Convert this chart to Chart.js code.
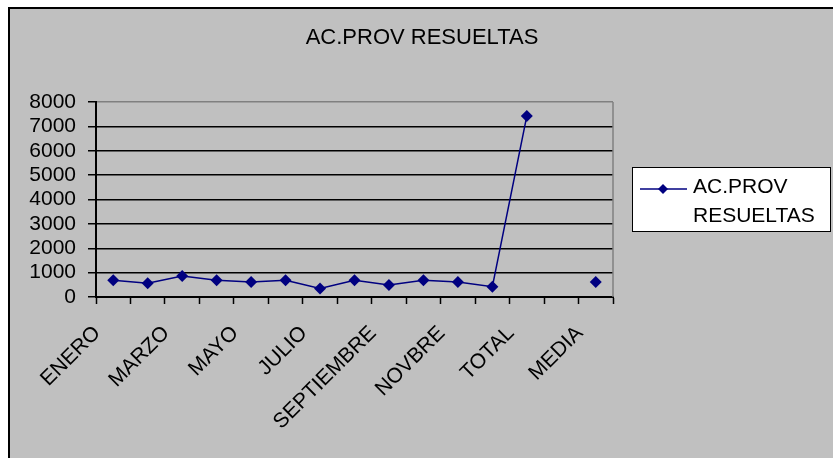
<!DOCTYPE html>
<html>
<head>
<meta charset="utf-8">
<script src="https://cdn.jsdelivr.net/npm/chart.js@4"></script>
<style>
    html, body { margin: 0; padding: 0; background: #ffffff; }
    #wrap { width: 833px; height: 458px; position: relative; }
</style>
</head>
<body>
<div id="wrap"><canvas id="chart"></canvas></div>
<script>
const months = ['ENERO', 'FEBRERO', 'MARZO', 'ABRIL', 'MAYO', 'JUNIO', 'JULIO', 'AGOSTO',
    'SEPTIEMBRE', 'OCTUBRE', 'NOVBRE', 'DICBRE', 'TOTAL', '', 'MEDIA'];
const resueltas = [690, 560, 860, 690, 620, 690, 350, 690, 490, 690, 620, 420, 7430, null, 620];
const yTicks = [0, 1000, 2000, 3000, 4000, 5000, 6000, 7000, 8000];
const titleText = 'AC.PROV RESUELTAS';
const seriesName = 'AC.PROV RESUELTAS';

const FONT = "'Liberation Sans', Arial, sans-serif";
const NAVY = '#000080';

// fondo gris con borde negro, estilo Excel
const backdrop = {
    id: 'backdrop',
    beforeDraw(chart) {
        const c = chart.ctx;
        c.save();
        c.fillStyle = '#ffffff';
        c.fillRect(0, 0, chart.width, chart.height);
        c.fillStyle = '#c0c0c0';
        c.fillRect(8, 7, chart.width - 8, chart.height - 7);
        c.strokeStyle = '#000000';
        c.lineWidth = 2;
        c.beginPath();
        c.moveTo(9, chart.height);
        c.lineTo(9, 8);
        c.lineTo(chart.width, 8);
        c.stroke();
        c.restore();
    },
    beforeDatasetsDraw(chart) {
        const a = chart.chartArea;
        const c = chart.ctx;
        c.save();
        c.strokeStyle = '#808080';
        c.lineWidth = 1.5;
        c.beginPath();
        c.moveTo(a.right, a.top);
        c.lineTo(a.right, a.bottom);
        c.stroke();
        c.restore();
    }
};

// titulo y leyenda dibujados a mano
const extras = {
    id: 'extras',
    afterDraw(chart) {
        const c = chart.ctx;
        c.save();
        c.fillStyle = '#000000';
        c.font = '22px ' + FONT;
        c.textAlign = 'center';
        c.textBaseline = 'middle';
        c.fillText(titleText, 422, 38);

        // leyenda
        const bx = 632, by = 167, bw = 198, bh = 64;
        c.fillStyle = '#ffffff';
        c.fillRect(bx, by, bw, bh);
        c.strokeStyle = '#000000';
        c.lineWidth = 1;
        c.strokeRect(bx + 0.5, by + 0.5, bw, bh);

        const ds = chart.data.datasets[0];
        c.strokeStyle = ds.borderColor;
        c.lineWidth = 1.5;
        c.beginPath();
        c.moveTo(640, 189);
        c.lineTo(687, 189);
        c.stroke();
        c.fillStyle = ds.pointBackgroundColor;
        c.beginPath();
        c.moveTo(663, 184);
        c.lineTo(668, 189);
        c.lineTo(663, 194);
        c.lineTo(658, 189);
        c.closePath();
        c.fill();

        c.fillStyle = '#000000';
        c.font = '21px ' + FONT;
        c.textAlign = 'left';
        const words = ds.label.split(' ');
        words.forEach((w, i) => c.fillText(w, 693, 187 + i * 29));
        c.restore();
    }
};

const ctx = document.getElementById('chart').getContext('2d');
new Chart(ctx, {
    type: 'line',
    data: {
        labels: months,
        datasets: [{
            label: seriesName,
            data: resueltas,
            borderColor: NAVY,
            backgroundColor: NAVY,
            pointBackgroundColor: NAVY,
            pointBorderColor: NAVY,
            borderWidth: 1.5,
            pointStyle: 'rectRot',
            pointRadius: 6,
            pointBorderWidth: 0,
            tension: 0,
            spanGaps: false
        }]
    },
    options: {
        responsive: true,
        maintainAspectRatio: false,
        animation: false,
        layout: { padding: { top: 102, right: 220, left: 0, bottom: 0 } },
        plugins: {
            legend: { display: false },
            title: { display: false },
            tooltip: { enabled: false }
        },
        scales: {
            x: {
                type: 'category',
                offset: true,
                afterFit(s) { s.height = 161; },
                grid: {
                    offset: true,
                    drawOnChartArea: false,
                    drawTicks: true,
                    tickLength: 7,
                    tickColor: '#000000',
                    tickWidth: 1.5
                },
                border: { display: true, color: '#000000', width: 2 },
                ticks: {
                    autoSkip: false,
                    maxRotation: 45,
                    minRotation: 45,
                    padding: 17,
                    labelOffset: -16,
                    color: '#000000',
                    font: { family: FONT, size: 21 },
                    callback(value, index) {
                        return index % 2 === 0 ? this.getLabelForValue(value) : '';
                    }
                }
            },
            y: {
                min: 0,
                max: 8000,
                afterFit(s) { s.width = 96; },
                afterBuildTicks(s) { s.ticks = yTicks.map(v => ({ value: v })); },
                grid: {
                    color: c => c.tick && c.tick.value === 8000 ? '#808080' : '#000000',
                    lineWidth: 1.5,
                    tickLength: 8,
                    tickColor: '#000000',
                    tickWidth: 1.5
                },
                border: { display: true, color: '#000000', width: 2 },
                ticks: {
                    autoSkip: false,
                    padding: 12,
                    color: '#000000',
                    font: { family: FONT, size: 21 },
                    callback: v => String(v)
                }
            }
        }
    },
    plugins: [backdrop, extras]
});
</script>
</body>
</html>
